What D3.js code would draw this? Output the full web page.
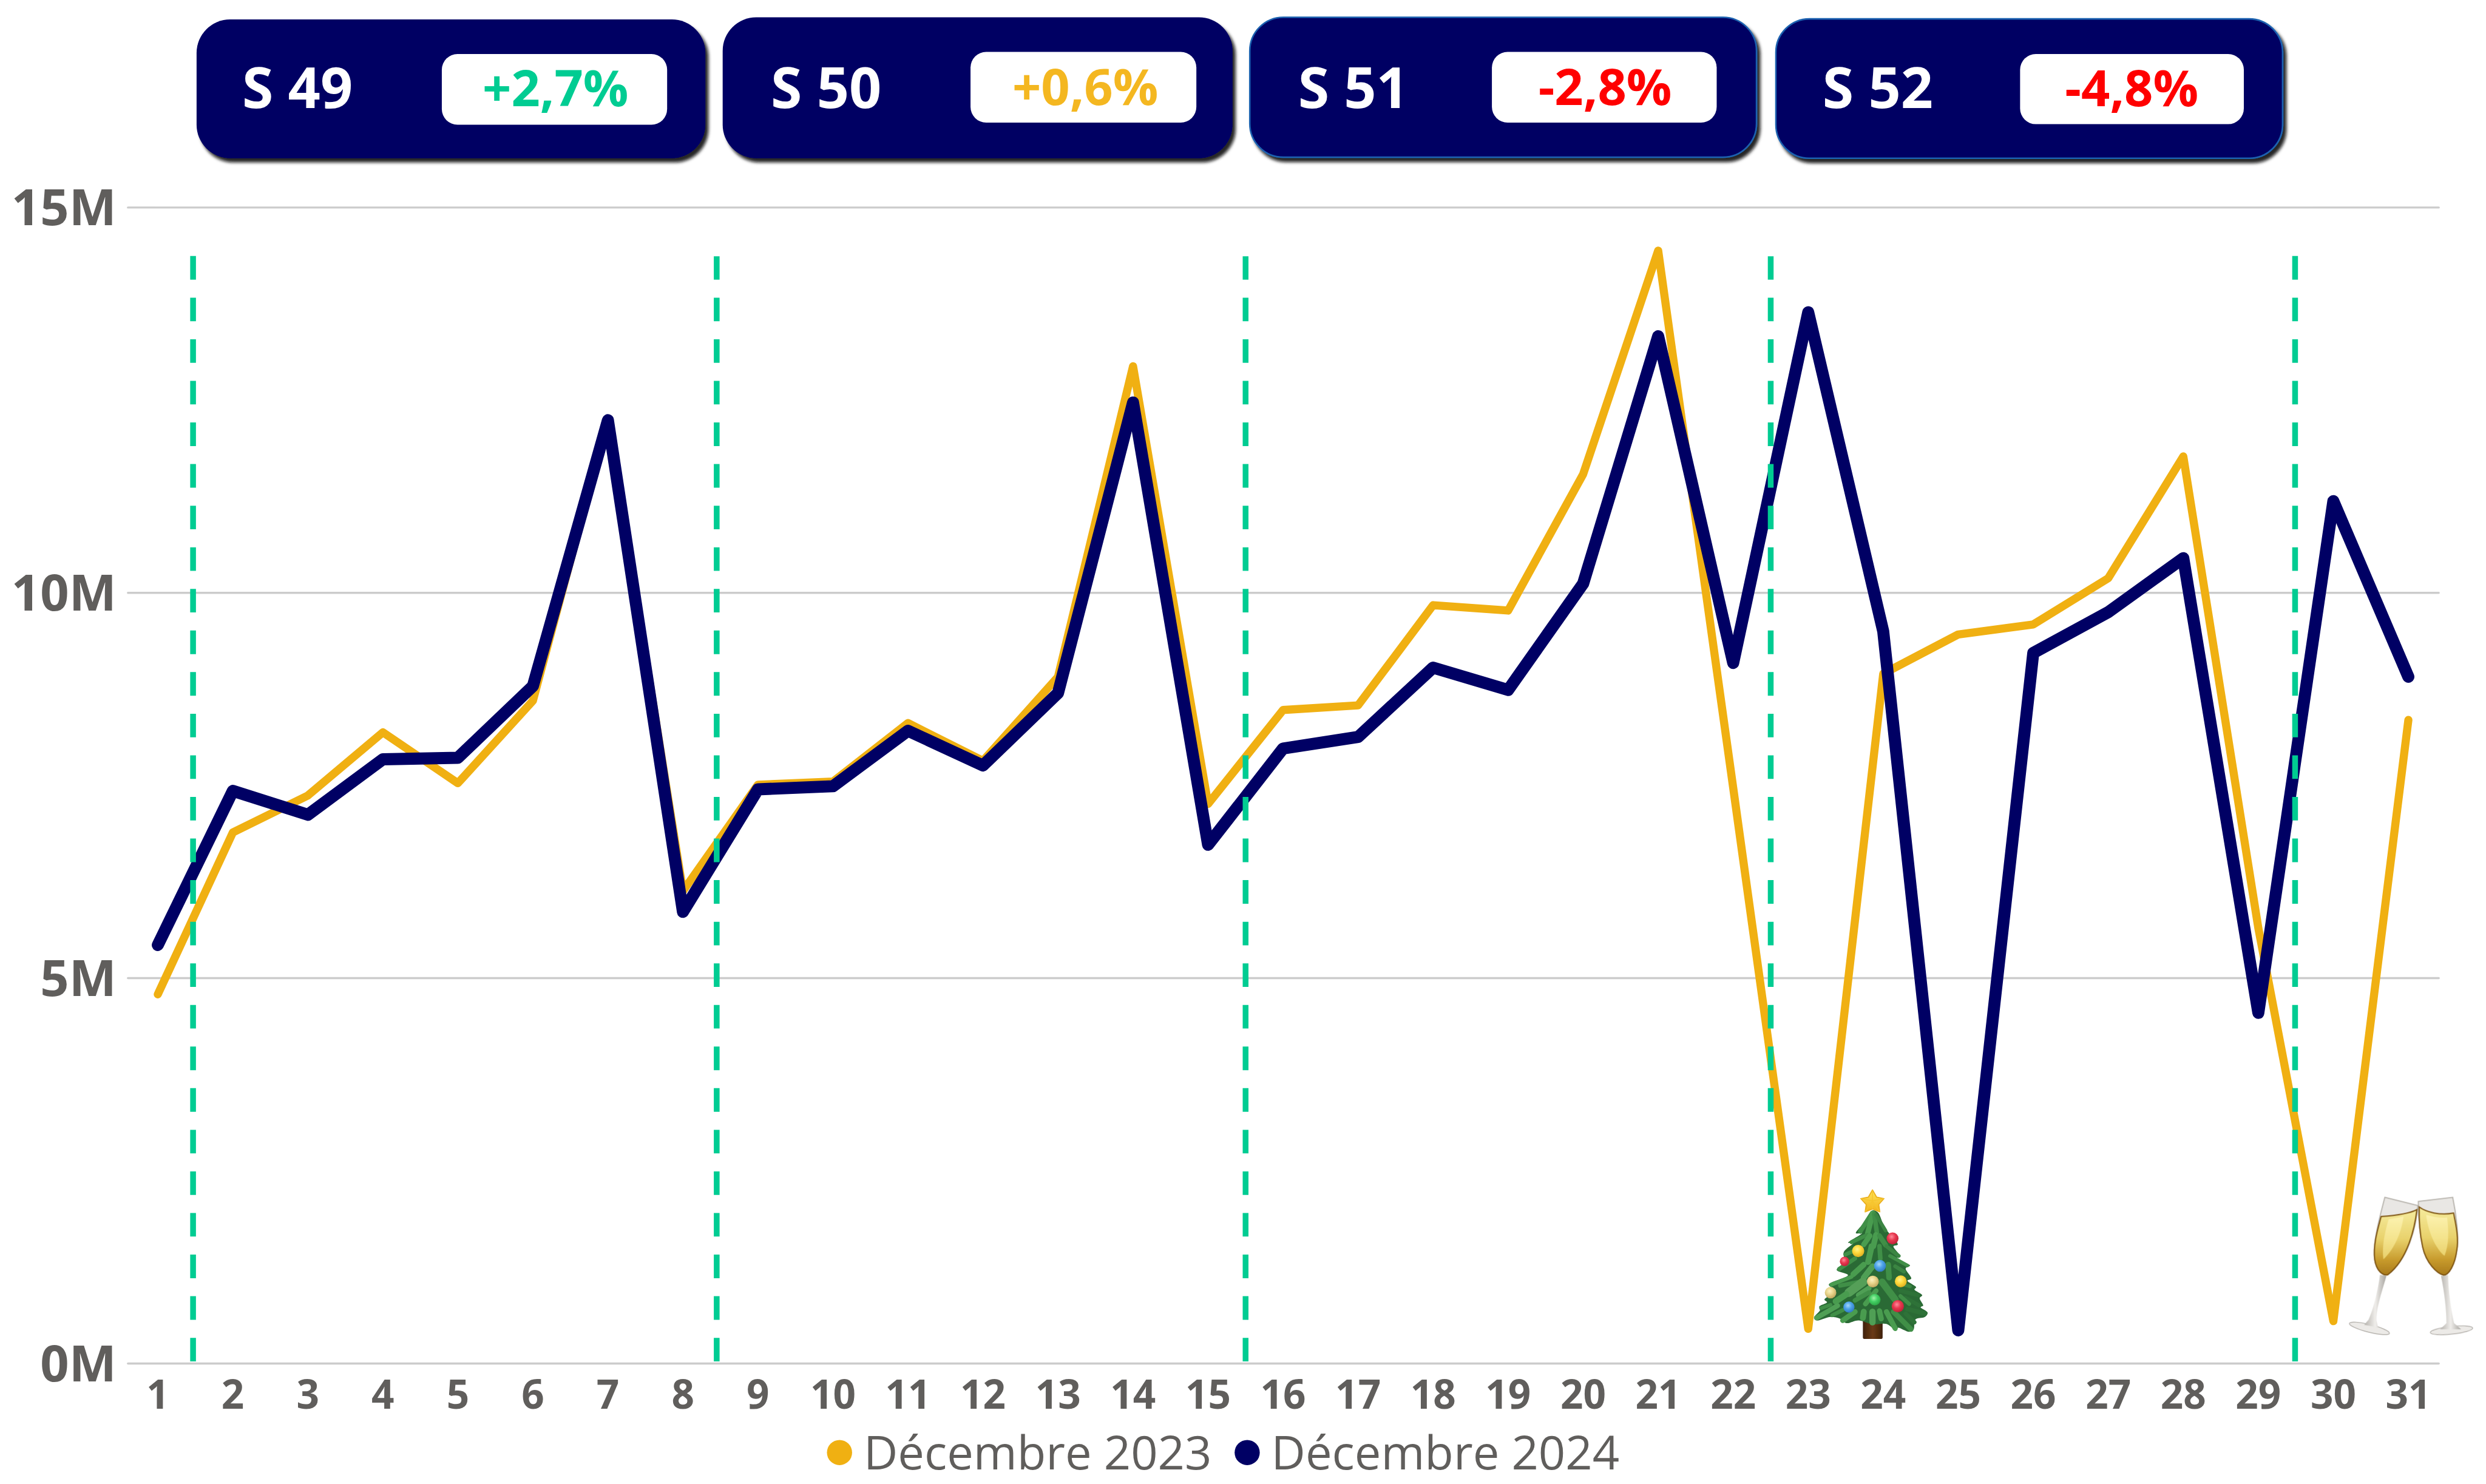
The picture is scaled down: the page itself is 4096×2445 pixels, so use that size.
<!DOCTYPE html>
<html><head><meta charset="utf-8">
<script src="https://cdnjs.cloudflare.com/ajax/libs/d3/7.8.5/d3.min.js"></script>
<style>html,body{margin:0;padding:0;background:#fff;overflow:hidden}svg{display:block}</style>
</head><body><svg id="c"></svg>
<script>
const days = d3.range(1, 32);
const dec2023 = [4.79,6.89,7.37,8.19,7.53,8.6,12.24,6.13,7.51,7.55,8.31,7.82,8.91,12.94,7.26,8.48,8.54,9.84,9.77,11.54,14.44,7.47,0.45,8.95,9.46,9.59,10.19,11.77,5.65,0.55,8.35];
const dec2024 = [5.43,7.43,7.12,7.84,7.86,8.79,12.24,5.86,7.45,7.49,8.21,7.76,8.7,12.47,6.73,7.98,8.13,9.03,8.74,10.12,13.33,9.09,13.64,9.5,0.43,9.22,9.75,10.45,4.55,11.19,8.91];
const yTicks = [0,5,10,15];
const weekSplits = [1.47,8.45,15.5,22.5,29.49];
const weekLabels = ["S 49","S 50","S 51","S 52"];
const weekPct = ["+2,7%","+0,6%","-2,8%","-4,8%"];
const weekPctColors = ["#00CC92","#F4B720","#FF0000","#FF0000"];
const seriesNames = ["Décembre 2023","Décembre 2024"];
const ORANGE="#F0B012", NAVY="#000064", GREEN="#00CC92", GREY="#605E5C";
const FONT="'Open Sans',sans-serif";

// layout of the header boxes, in reference pixels
const boxRects = [[375,37,971,265],[1379,33,973,269],[2385,33,967,267],[3389,36,967,266]];
const innerRects = [[843,103,430,135],[1852,99,431,135],[2847,99,429,135],[3855,103,427,134]];
const labelX = [462,1471,2477,3478];
const pctX = [1060,2071,3063,4068];
const pctY = [203,200,200,203];
const boxEdge = ["none","none","#1C62B0","#1C62B0"];
const splitTop = [480,489,489,489,486];

const svg=d3.select("#c").attr("width",4096).attr("height",2445).attr("viewBox","0 0 4744 2832");
const defs=svg.append("defs");
const f=defs.append("filter").attr("id","sh").attr("x","-5%").attr("y","-10%").attr("width","110%").attr("height","125%");
f.append("feDropShadow").attr("dx",6).attr("dy",8).attr("stdDeviation",3).attr("flood-color","#111").attr("flood-opacity",.9);
defs.append("filter").attr("id","soft").append("feGaussianBlur").attr("stdDeviation",1.6);
const grad=(id,stops,o={})=>{const g=defs.append("linearGradient").attr("id",id);Object.entries(o).forEach(([k,v])=>g.attr(k,v));
  stops.forEach(([a,c])=>g.append("stop").attr("offset",a).attr("stop-color",c));};
const rad=(id,hi,c,lo)=>{const g=defs.append("radialGradient").attr("id",id).attr("cx",.42).attr("cy",.36).attr("r",.7);
  [[0,hi],[.45,c],[1,lo]].forEach(([a,s])=>g.append("stop").attr("offset",a).attr("stop-color",s));};

const x=d3.scaleLinear().domain([1,31]).range([301,4596]);
const y=d3.scaleLinear().domain([0,15]).range([2602,396]);

// grid
svg.append("g").selectAll("line").data(yTicks).join("line")
 .attr("x1",244).attr("x2",4654).attr("y1",d=>y(d)).attr("y2",d=>y(d))
 .attr("stroke","#CCCCCC").attr("stroke-width",4).attr("stroke-linecap","round");
svg.append("g").selectAll("text").data(yTicks).join("text")
 .attr("x",222).attr("y",d=>y(d)+34).attr("text-anchor","end")
 .attr("font-family",FONT).attr("font-weight",700).attr("font-size",96).attr("fill",GREY).text(d=>d+"M");
svg.append("g").selectAll("text").data(days).join("text")
 .attr("x",d=>x(d)).attr("y",2688).attr("text-anchor","middle")
 .attr("font-family",FONT).attr("font-weight",700).attr("font-size",76).attr("fill",GREY).text(d=>d);

// lines
const line=d3.line().x((d,i)=>x(days[i])).y(d=>y(d));
const draw=(v,c,w)=>svg.append("path").datum(v).attr("d",line).attr("fill","none").attr("stroke",c).attr("stroke-width",w).attr("stroke-linejoin","round").attr("stroke-linecap","round");
draw(dec2023,ORANGE,15.5);
draw(dec2024,NAVY,23);

// week separators
svg.append("g").selectAll("line").data(weekSplits).join("line")
 .attr("x1",d=>x(d)).attr("x2",d=>x(d)).attr("y1",2598).attr("y2",(d,i)=>splitTop[i])
 .attr("stroke",GREEN).attr("stroke-width",11).attr("stroke-dasharray","45 34.4");

// week boxes
const boxes=svg.append("g").selectAll("g").data(weekLabels).join("g");
boxes.append("rect").attr("x",(d,i)=>boxRects[i][0]).attr("y",(d,i)=>boxRects[i][1]).attr("width",(d,i)=>boxRects[i][2]).attr("height",(d,i)=>boxRects[i][3])
 .attr("rx",64).attr("fill",NAVY).attr("stroke",(d,i)=>boxEdge[i]).attr("stroke-width",3).attr("filter","url(#sh)");
boxes.append("rect").attr("x",(d,i)=>innerRects[i][0]).attr("y",(d,i)=>innerRects[i][1]).attr("width",(d,i)=>innerRects[i][2]).attr("height",(d,i)=>innerRects[i][3])
 .attr("rx",30).attr("fill","#fff");
boxes.append("text").attr("x",(d,i)=>labelX[i]).attr("y",206).attr("font-family",FONT).attr("font-weight",700).attr("font-size",108).attr("fill","#fff").text(d=>d);
boxes.append("text").attr("x",(d,i)=>pctX[i]).attr("y",(d,i)=>pctY[i]).attr("text-anchor","middle").attr("font-family",FONT).attr("font-weight",700).attr("font-size",96).attr("fill",(d,i)=>weekPctColors[i]).text((d,i)=>weekPct[i]);

// legend
const lg=svg.append("g").selectAll("g").data(seriesNames).join("g");
lg.append("circle").attr("cx",(d,i)=>[1602,2380][i]).attr("cy",2772).attr("r",24).attr("fill",(d,i)=>[ORANGE,NAVY][i]);
lg.append("text").attr("x",(d,i)=>[1648,2426][i]).attr("y",2804).attr("font-family",FONT).attr("font-size",90).attr("fill",GREY).text(d=>d);

// ---- Christmas tree icon (drawn, no emoji font is available) ----
const tree=svg.append("g").attr("transform","translate(3440,2250) scale(0.3333)").attr("filter","url(#soft)");
grad("trunk",[[0,"#3F210C"],[.5,"#6A3A14"],[1,"#3F210C"]]);
tree.append("rect").attr("x",345).attr("y",790).attr("width",113).attr("height",126).attr("rx",8).attr("fill","url(#trunk)");
const silhouette=[[400,180],[430,190],[470,280],[495,310],[545,375],[520,385],[560,445],[530,455],[615,495],[590,512],[622,570],[600,582],[650,620],[640,632],[685,665],[670,682],[690,725],[672,732],[716,765],[700,790],[645,805],[635,862],[610,875],[545,852],[538,868],[480,830],[400,832],[320,810],[250,825],[215,800],[160,790],[80,810],[65,795],[100,750],[95,730],[140,705],[125,690],[190,640],[150,605],[260,550],[195,520],[240,475],[235,420],[290,365],[260,365],[340,310],[305,310],[370,230]];
tree.append("path").attr("d",d3.line().curve(d3.curveCatmullRomClosed.alpha(.5))(silhouette)).attr("fill","#2C6B35");
const branches=[
 // [startX,startY,endX,endY,width,colour]
 [398,195,330,300,26,"#3F8F47"],[402,195,372,312,30,"#4A9C50"],[410,200,425,305,26,"#3F8F47"],[420,205,475,295,20,"#3A8542"],
 [370,320,280,362,22,"#3F8F47"],[385,325,350,375,30,"#4A9C50"],[420,320,405,385,32,"#4A9C50"],[440,325,475,378,28,"#3F8F47"],
 [330,395,245,432,22,"#3F8F47"],[395,385,375,475,34,"#4A9C50"],[440,385,445,455,26,"#3F8F47"],[480,385,550,440,22,"#3A8542"],[500,440,600,495,20,"#3F8F47"],
 [300,455,210,515,24,"#3F8F47"],[350,490,290,545,32,"#4A9C50"],[400,500,350,565,34,"#4F9F55"],[490,490,495,565,32,"#3F8F47"],[530,500,580,530,22,"#3A8542"],
 [280,560,165,605,22,"#4A9C50"],[320,590,215,610,24,"#3F8F47"],[345,590,265,650,50,"#549F58"],[380,625,320,665,30,"#4F9F55"],[455,590,530,690,40,"#3F8F47"],[560,640,660,665,22,"#2F7238"],[560,600,615,615,20,"#3A8542"],
 [250,660,190,700,36,"#4A9C50"],[380,650,300,695,26,"#3F8F47"],[420,640,360,715,28,"#4A9C50"],[590,680,670,725,22,"#2F7238"],[560,670,610,715,22,"#3F8F47"],
 [200,725,80,795,28,"#4F9F55"],[160,720,105,740,20,"#3F8F47"],[230,750,170,780,22,"#3F8F47"],[300,760,230,810,30,"#4A9C50"],[350,760,345,795,34,"#4A9C50"],[400,760,400,820,36,"#4F9F55"],[440,755,450,800,30,"#4A9C50"],
 [480,760,530,855,30,"#4A9C50"],[520,760,620,860,30,"#3F8F47"],[600,745,700,770,26,"#2F7238"],[590,770,640,820,24,"#2F7238"]
];
tree.append("g").selectAll("line").data(branches).join("line")
 .attr("x1",d=>d[0]).attr("y1",d=>d[1]).attr("x2",d=>d[2]).attr("y2",d=>d[3]).attr("stroke-width",d=>d[4]).attr("stroke",d=>d[5]).attr("stroke-linecap","round");
rad("oRed","#FF8A9A","#E8384F","#B81F35");rad("oYel","#FFF38A","#FFD93B","#D9A81E");rad("oBlu","#A5D8FA","#4DA3E8","#2C74BC");
rad("oCre","#FBF1C0","#E8D48A","#B89F58");rad("oGrn","#A0F2A8","#45D065","#27A040");
const ornaments=[[240,472,27,"oRed"],[515,340,34,"oRed"],[318,412,35,"oYel"],[443,497,34,"oBlu"],[402,587,34,"oCre"],[562,586,34,"oYel"],[160,651,33,"oCre"],[413,691,33,"oGrn"],[265,733,32,"oBlu"],[545,728,35,"oRed"]];
tree.append("g").selectAll("circle").data(ornaments).join("circle")
 .attr("cx",d=>d[0]).attr("cy",d=>d[1]).attr("r",d=>d[2]).attr("fill",d=>`url(#${d[3]})`);
grad("star",[[0,"#FFE55A"],[1,"#F2B31C"]],{x1:0,y1:0,x2:0,y2:1});
tree.append("path").attr("d","M400,62 L424,104 L466,112 L436,146 L442,188 L400,172 L358,188 L364,146 L333,112 L376,104 Z")
 .attr("fill","url(#star)").attr("stroke","#EAAE1C").attr("stroke-width",6).attr("stroke-linejoin","round");
tree.append("path").attr("d","M400,62 L400,172 M333,112 L400,125 L466,112 M358,188 L400,125 L442,188").attr("stroke","#F6C52E").attr("stroke-width",5).attr("fill","none");

// ---- Champagne flutes icon ----
const flutes=svg.append("g").attr("transform","translate(4470,2270) scale(0.3333)").attr("filter","url(#soft)");
grad("stem",[[0,"#B5B2AD"],[.5,"#F0EEEB"],[1,"#A8A5A0"]]);
grad("liq",[[0,"#F6EC9E"],[.45,"#E9D26C"],[.78,"#C79A2C"],[1,"#A87A1C"]],{x1:0,y1:0,x2:0,y2:1});
grad("sheen",[[0,"#FFF6B8",],[1,"#F3E07E"]],{x1:0,y1:0,x2:0,y2:1});
const footEl=[[155,795,118,22,14],[625,806,122,22,-6]];
flutes.append("g").selectAll("ellipse").data(footEl).join("ellipse")
 .attr("cx",d=>d[0]).attr("cy",d=>d[1]).attr("rx",d=>d[2]).attr("ry",d=>d[3]).attr("transform",d=>`rotate(${d[4]} ${d[0]} ${d[1]})`)
 .attr("fill","#ECEAE7").attr("stroke","#B8B5B0").attr("stroke-width",5);
const stems=["M215,488 L252,495 C232,570 192,680 196,752 L205,790 L125,775 L150,745 C180,680 205,570 215,488 Z",
             "M565,495 L606,490 C606,580 625,700 640,765 L680,800 L560,800 L596,765 C596,690 585,590 565,495 Z"];
flutes.append("g").selectAll("path").data(stems).join("path").attr("d",d=>d).attr("fill","url(#stem)");
const bowls=["M243,45 L432,92 C425,200 380,400 260,488 C235,495 195,470 185,400 C170,300 225,120 243,45 Z",
             "M435,68 L632,45 C650,130 670,280 655,350 C645,430 610,490 580,490 C540,480 480,420 460,330 C440,240 435,130 435,68 Z"];
const liquids=["M222,155 C290,150 380,140 427,115 C415,220 375,400 260,488 C235,495 195,470 185,400 C175,310 205,220 222,155 Z",
               "M440,100 C480,130 560,150 637,135 C650,200 668,280 655,350 C645,430 610,490 580,490 C540,480 480,420 460,330 C445,260 438,170 440,100 Z"];
const sheens=["M265,170 C300,165 330,160 350,155 C340,240 300,340 235,400 C225,320 245,240 265,170 Z",
              "M480,145 C530,160 570,165 600,160 C610,240 610,320 585,380 C535,340 490,240 480,145 Z"];
flutes.append("g").selectAll("path").data(bowls).join("path").attr("d",d=>d).attr("fill","#E9E7E4").attr("stroke","#B5B1AA").attr("stroke-width",6);
flutes.append("g").selectAll("path").data(liquids).join("path").attr("d",d=>d).attr("fill","url(#liq)").attr("stroke","#7E5412").attr("stroke-width",7);
flutes.append("g").selectAll("path").data(sheens).join("path").attr("d",d=>d).attr("fill","url(#sheen)").attr("opacity",.75);
</script></body></html>
